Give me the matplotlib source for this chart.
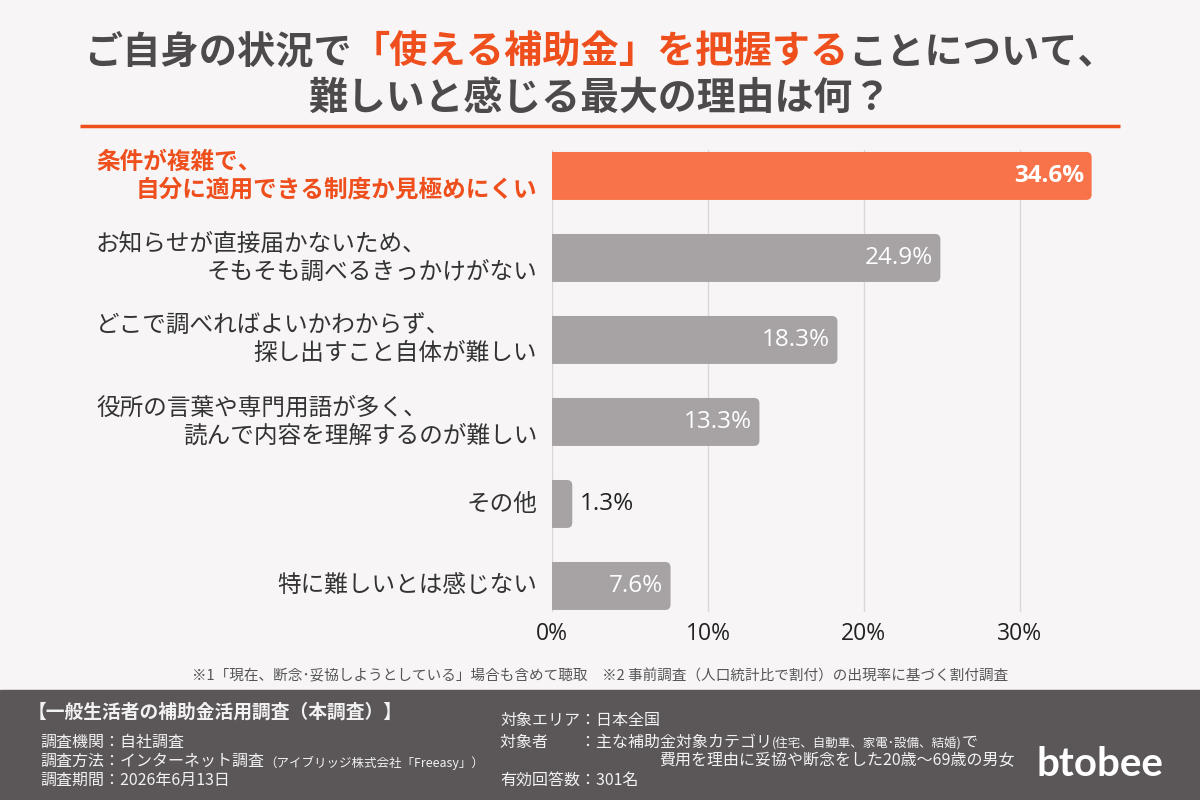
import matplotlib.pyplot as plt
from matplotlib.patches import FancyBboxPatch, Rectangle
from matplotlib.transforms import blended_transform_factory

plt.rcParams['font.family'] = ['Noto Sans CJK JP', 'DejaVu Sans']

# data
labels = ['条件が複雑で、\n自分に適用できる制度か見極めにくい',
          'お知らせが直接届かないため、\nそもそも調べるきっかけがない',
          'どこで調べればよいかわからず、\n探し出すこと自体が難しい',
          '役所の言葉や専門用語が多く、\n読んで内容を理解するのが難しい',
          'その他',
          '特に難しいとは感じない']
values = [34.6, 24.9, 18.3, 13.3, 1.3, 7.6]
ticks = [0, 10, 20, 30]
tick_labels = ['0%', '10%', '20%', '30%']

title_1 = [('ご自身の状況で', 'gray'), ('「使える補助金」を把握する', 'orange'), ('ことについて、', 'gray')]
title_2 = '難しいと感じる最大の理由は何？'
footnote = '※1「現在、断念･妥協しようとしている」場合も含めて聴取　※2 事前調査（人口統計比で割付）の出現率に基づく割付調査'
survey_name = '【一般生活者の補助金活用調査（本調査）】'

bg = '#F7F5F6'
title_gray = '#4D4A4B'
accent = '#EE4F1C'
bar_orange = '#F8734A'
bar_gray = '#A7A2A3'
text_dark = '#333333'
footer_bg = '#5B5658'
footer_text = '#F2F2F2'
num_font = 'Open Sans'

fig = plt.figure(figsize=(12, 8), dpi=100)
fig.patch.set_facecolor(bg)

# full-figure layer in pixel units for title / footer
base = fig.add_axes([0, 0, 1, 1])
base.set_xlim(0, 1200)
base.set_ylim(800, 0)
base.axis('off')


def chain(parts, x, y, **kw):
    # draw text pieces one after another on the same line
    arts = []
    for text, color, size in parts:
        if not arts:
            t = base.text(x, y, text, color=color, fontsize=size, va='center', ha='left', **kw)
        else:
            t = base.annotate(text, xy=(1, 0), xycoords=arts[-1], color=color, fontsize=size,
                              va='bottom', ha='left', annotation_clip=False, **kw)
        arts.append(t)
    return arts


# title
cmap = {'gray': title_gray, 'orange': accent}
t1 = chain([(s, cmap[c], 27.5) for s, c in title_1], 88, 52, fontweight='bold')
base.text(600, 98, title_2, color=title_gray, fontsize=28, fontweight='bold', ha='center', va='center')
fig.canvas.draw()
r = fig.canvas.get_renderer()
left = t1[0].get_window_extent(r).x0
right = t1[-1].get_window_extent(r).x1
t1[0].set_x(t1[0].get_position()[0] + 600 - (left + right) / 2)

base.plot([80, 1120], [126, 126], color=accent, lw=2.5, solid_capstyle='butt')

# chart
ax = fig.add_axes([552 / 1200, 1 - 612 / 800, 549 / 1200, 462 / 800])
ax.patch.set_alpha(0)
for s in ax.spines.values():
    s.set_visible(False)
ax.set_xlim(0, 35.2)
ax.set_ylim(5.317, -0.317)
px_y = blended_transform_factory(base.transData, ax.transData)

for i, v in enumerate(values):
    col = bar_orange if i == 0 else bar_gray
    p = FancyBboxPatch((-1, i - 0.293), v + 1, 0.585,
                       boxstyle='round,pad=0,rounding_size=0.35', mutation_aspect=0.19,
                       fc=col, ec='none', zorder=2)
    ax.add_patch(p)
    if v > 5:
        ax.text(v - 0.45, i, f'{v}%', ha='right', va='center', color='white', fontsize=17.5,
                family=num_font, fontweight='bold' if i == 0 else 'normal', zorder=3)
    else:
        ax.text(v + 0.5, i, f'{v}%', ha='left', va='center', color='#222222', fontsize=17.5,
                family=num_font, zorder=3)

    # category labels: first line starts at a common left edge, last line ends at the axis
    lc = accent if i == 0 else text_dark
    lw = 'bold' if i == 0 else 'normal'
    lines = labels[i].split('\n')
    if len(lines) == 1:
        ax.text(-0.95, i, lines[0], ha='right', va='center', fontsize=17, color=lc, fontweight=lw)
    else:
        ax.text(96, i - 0.17, lines[0], ha='left', va='center', fontsize=17, color=lc,
                fontweight=lw, transform=px_y, clip_on=False)
        ax.text(-0.95, i + 0.17, lines[1], ha='right', va='center', fontsize=17, color=lc, fontweight=lw)

ax.set_xlim(0, 35.2)
ax.set_ylim(5.317, -0.317)
ax.set_xticks(ticks)
ax.set_xticklabels(tick_labels, fontsize=16.5, color='#222222', family=num_font)
ax.set_yticks([])
ax.tick_params(axis='x', length=0, pad=7)
ax.grid(axis='x', color='#D9D7D8', lw=1, zorder=0)
ax.set_axisbelow(True)

# footnote and footer
base.text(600, 676, footnote, ha='center', va='center', fontsize=10.5, color='#555555')
base.add_patch(Rectangle((0, 690), 1200, 110, color=footer_bg, zorder=0))

base.text(28, 712, survey_name, color=footer_text, fontsize=13.5, fontweight='bold', va='center')
base.text(40, 742, '調査機関：自社調査', color=footer_text, fontsize=11.5, va='center')
chain([('調査方法：インターネット調査', footer_text, 11.5),
       ('（アイブリッジ株式会社「Freeasy」）', footer_text, 9)], 40, 761)
base.text(40, 780, '調査期間：2026年6月13日', color=footer_text, fontsize=11.5, va='center')

base.text(500, 720, '対象エリア：日本全国', color=footer_text, fontsize=11.5, va='center')
chain([('対象者　　：主な補助金対象カテゴリ', footer_text, 11.5),
       ('(住宅、自動車、家電･設備、結婚)', footer_text, 9),
       ('で', footer_text, 11.5)], 500, 742)
base.text(1015, 761, '費用を理由に妥協や断念をした20歳〜69歳の男女', color=footer_text, fontsize=11.5,
          va='center', ha='right')
base.text(500, 780, '有効回答数：301名', color=footer_text, fontsize=11.5, va='center')

base.text(1100, 764, 'btobee', color='white', fontsize=29, fontweight='bold', family='Lato',
          ha='center', va='center')

fig.savefig('out.png', dpi=100, facecolor=bg)
